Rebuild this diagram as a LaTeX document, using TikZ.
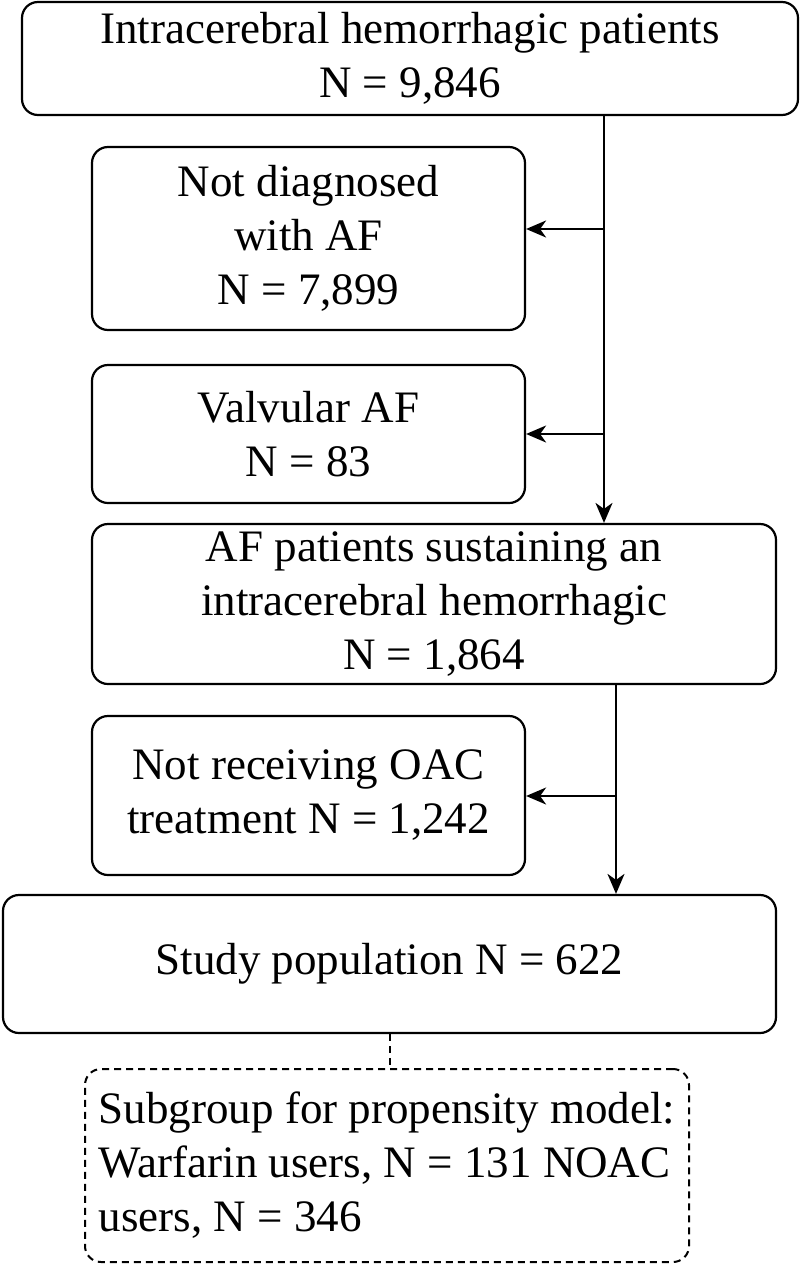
\documentclass[tikz,border=0pt]{standalone}
\usepackage{fontspec}
\setmainfont{Liberation Serif}
\usetikzlibrary{arrows.meta}
\begin{document}
\begin{tikzpicture}[x=1pt,y=-1pt,
  box/.style={draw=black, line width=2.2pt, rounded corners=16pt, inner sep=0pt, align=center,
    font=\fontsize{45}{54}\selectfont},
  dbox/.style={box, line width=2pt, dash pattern=on 7pt off 5pt, align=left},
  arr/.style={line width=2pt, -{Stealth[length=20pt,width=17pt,inset=6pt]}},
  link/.style={line width=2pt, dash pattern=on 7pt off 5pt}]
\useasboundingbox (0,0) rectangle (800,1264);
\node[box, minimum width=776pt, minimum height=113pt] (b1) at (410,58.5)
  {Intracerebral hemorrhagic patients\\N = 9,846};
\node[box, minimum width=433pt, minimum height=183pt] (b2) at (308.5,238.5)
  {Not diagnosed\\with AF\\N = 7,899};
\node[box, minimum width=433pt, minimum height=138pt] (b3) at (308.5,434)
  {Valvular AF\\N = 83};
\node[box, minimum width=684pt, minimum height=160pt] (b4) at (434,604)
  {AF patients sustaining an\\intracerebral hemorrhagic\\N = 1,864};
\node[box, minimum width=433pt, minimum height=159pt] (b5) at (308.5,795.5)
  {Not receiving OAC\\treatment N = 1,242};
\node[box, minimum width=773pt, minimum height=138pt] (b6) at (389.5,964)
  {Study population N = 622};
\node[dbox, minimum width=604pt, minimum height=193pt] (b7) at (387,1165.5)
  {Subgroup for propensity model:\\Warfarin users, N = 131 NOAC\\users, N = 346};
\coordinate (t1) at (604,229);
\coordinate (t2) at (604,434);
\coordinate (t3) at (616,796);
\draw[arr] (b1.south -| t1) -- (b4.north -| t1);
\draw[arr] (t1) -- (t1 -| b2.east);
\draw[arr] (t2) -- (t2 -| b3.east);
\draw[arr] (b4.south -| t3) -- (b6.north -| t3);
\draw[arr] (t3) -- (t3 -| b5.east);
\draw[link] (b6.south) -- (b6.south |- b7.north);
\end{tikzpicture}
\end{document}
